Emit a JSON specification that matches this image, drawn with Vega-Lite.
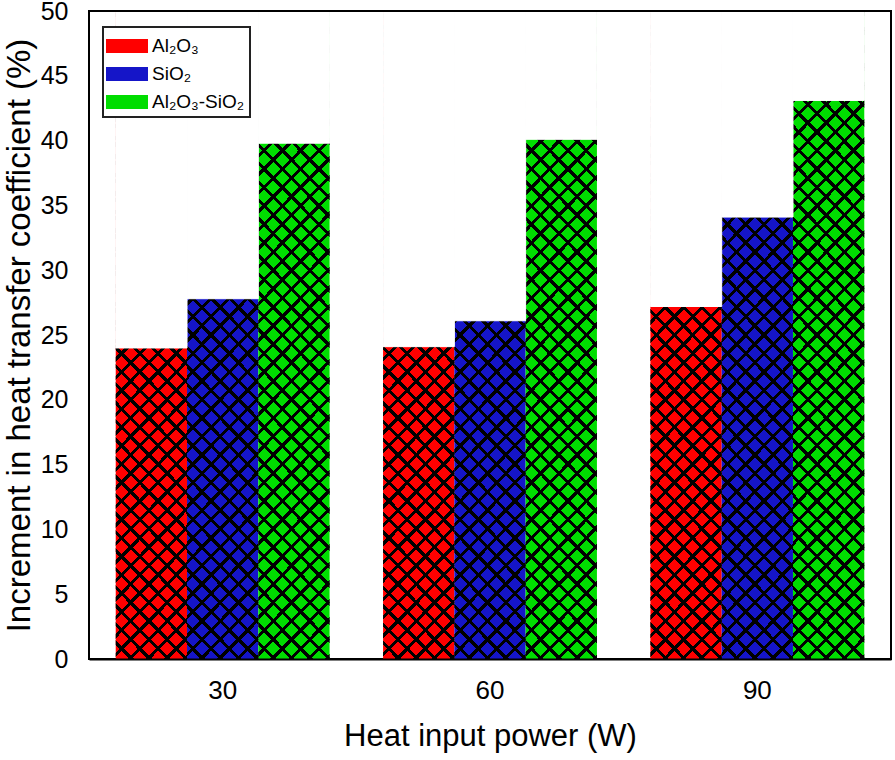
{
  "$schema": "https://vega.github.io/schema/vega-lite/v6.json",
  "width": 802,
  "height": 648,
  "autosize": "none",
  "padding": {"left": 89, "top": 11, "right": 4, "bottom": 101},
  "background": "white",
  "config": {
    "font": "Liberation Sans",
    "view": {"stroke": "black", "strokeWidth": 2},
    "axis": {"labelColor": "black", "titleColor": "black", "labelFont": "Liberation Sans", "titleFont": "Liberation Sans", "titleFontWeight": "normal"}
  },
  "data": {"values": [
    {"power": "30", "series": "Al₂O₃", "value": 24.0},
    {"power": "30", "series": "SiO₂", "value": 27.8},
    {"power": "30", "series": "Al₂O₃-SiO₂", "value": 39.8},
    {"power": "60", "series": "Al₂O₃", "value": 24.1},
    {"power": "60", "series": "SiO₂", "value": 26.1},
    {"power": "60", "series": "Al₂O₃-SiO₂", "value": 40.1},
    {"power": "90", "series": "Al₂O₃", "value": 27.2},
    {"power": "90", "series": "SiO₂", "value": 34.1},
    {"power": "90", "series": "Al₂O₃-SiO₂", "value": 43.1}
  ]},
  "layer": [
    {
      "mark": {"type": "bar"},
      "encoding": {
        "x": {"field": "power", "type": "nominal", "title": "Heat input power (W)",
          "scale": {"paddingInner": 0.2, "paddingOuter": 0.1},
          "axis": {"labelAngle": 0, "labelFontSize": 26, "titleFontSize": 31, "ticks": false, "labelPadding": 18, "titlePadding": 18, "domain": true, "domainColor": "black", "domainWidth": 2, "zindex": 1}},
        "xOffset": {"field": "series", "type": "nominal", "sort": ["Al₂O₃", "SiO₂", "Al₂O₃-SiO₂"], "scale": {"paddingInner": 0, "paddingOuter": 0}},
        "y": {"datum": 50, "type": "quantitative", "title": "Increment in heat transfer coefficient (%)",
          "scale": {"domain": [0, 50], "nice": false},
          "axis": {"values": [0,5,10,15,20,25,30,35,40,45,50], "labelFontSize": 25, "titleFontSize": 33, "ticks": false, "domain": false, "grid": false, "labelPadding": 21, "titlePadding": 4}},
        "y2": {"datum": 0},
        "color": {"field": "series", "type": "nominal", "sort": ["Al₂O₃", "SiO₂", "Al₂O₃-SiO₂"],
          "scale": {"range": ["#ff0000", "#1515c8", "#00dd00"]},
          "legend": {"title": null, "orient": "none", "legendX": 14, "legendY": 16, "strokeColor": "#222", "fillColor": "white", "padding": 5,
            "symbolType": "M-1.5,-0.5H1.5V0.5H-1.5Z", "symbolSize": 784, "symbolStrokeWidth": 0, "symbolOpacity": 1, "symbolOffset": 5,
            "labelFontSize": 19, "labelFont": "Liberation Sans", "labelColor": "black", "labelOffset": 11, "rowPadding": 4,
            "encode": {"legend": {"update": {"strokeWidth": {"value": 2}}}}}}
      }
    },
    {
      "mark": {"type": "bar", "fill": {"gradient": "linear", "x1": 0, "y1": 1, "x2": 0.125, "y2": -0.125, "stops": [
{"offset":0,"color":"rgba(0,0,0,0)"},{"offset":0.019,"color":"rgba(0,0,0,0)"},{"offset":0.019,"color":"#000"},{"offset":0.025,"color":"#000"},
{"offset":0.025,"color":"rgba(0,0,0,0)"},{"offset":0.044,"color":"rgba(0,0,0,0)"},{"offset":0.044,"color":"#000"},{"offset":0.05,"color":"#000"},
{"offset":0.05,"color":"rgba(0,0,0,0)"},{"offset":0.069,"color":"rgba(0,0,0,0)"},{"offset":0.069,"color":"#000"},{"offset":0.075,"color":"#000"},
{"offset":0.075,"color":"rgba(0,0,0,0)"},{"offset":0.094,"color":"rgba(0,0,0,0)"},{"offset":0.094,"color":"#000"},{"offset":0.1,"color":"#000"},
{"offset":0.1,"color":"rgba(0,0,0,0)"},{"offset":0.119,"color":"rgba(0,0,0,0)"},{"offset":0.119,"color":"#000"},{"offset":0.125,"color":"#000"},
{"offset":0.125,"color":"rgba(0,0,0,0)"},{"offset":0.144,"color":"rgba(0,0,0,0)"},{"offset":0.144,"color":"#000"},{"offset":0.15,"color":"#000"},
{"offset":0.15,"color":"rgba(0,0,0,0)"},{"offset":0.169,"color":"rgba(0,0,0,0)"},{"offset":0.169,"color":"#000"},{"offset":0.175,"color":"#000"},
{"offset":0.175,"color":"rgba(0,0,0,0)"},{"offset":0.194,"color":"rgba(0,0,0,0)"},{"offset":0.194,"color":"#000"},{"offset":0.2,"color":"#000"},
{"offset":0.2,"color":"rgba(0,0,0,0)"},{"offset":0.219,"color":"rgba(0,0,0,0)"},{"offset":0.219,"color":"#000"},{"offset":0.225,"color":"#000"},
{"offset":0.225,"color":"rgba(0,0,0,0)"},{"offset":0.244,"color":"rgba(0,0,0,0)"},{"offset":0.244,"color":"#000"},{"offset":0.25,"color":"#000"},
{"offset":0.25,"color":"rgba(0,0,0,0)"},{"offset":0.269,"color":"rgba(0,0,0,0)"},{"offset":0.269,"color":"#000"},{"offset":0.275,"color":"#000"},
{"offset":0.275,"color":"rgba(0,0,0,0)"},{"offset":0.294,"color":"rgba(0,0,0,0)"},{"offset":0.294,"color":"#000"},{"offset":0.3,"color":"#000"},
{"offset":0.3,"color":"rgba(0,0,0,0)"},{"offset":0.319,"color":"rgba(0,0,0,0)"},{"offset":0.319,"color":"#000"},{"offset":0.325,"color":"#000"},
{"offset":0.325,"color":"rgba(0,0,0,0)"},{"offset":0.344,"color":"rgba(0,0,0,0)"},{"offset":0.344,"color":"#000"},{"offset":0.35,"color":"#000"},
{"offset":0.35,"color":"rgba(0,0,0,0)"},{"offset":0.369,"color":"rgba(0,0,0,0)"},{"offset":0.369,"color":"#000"},{"offset":0.375,"color":"#000"},
{"offset":0.375,"color":"rgba(0,0,0,0)"},{"offset":0.394,"color":"rgba(0,0,0,0)"},{"offset":0.394,"color":"#000"},{"offset":0.4,"color":"#000"},
{"offset":0.4,"color":"rgba(0,0,0,0)"},{"offset":0.419,"color":"rgba(0,0,0,0)"},{"offset":0.419,"color":"#000"},{"offset":0.425,"color":"#000"},
{"offset":0.425,"color":"rgba(0,0,0,0)"},{"offset":0.444,"color":"rgba(0,0,0,0)"},{"offset":0.444,"color":"#000"},{"offset":0.45,"color":"#000"},
{"offset":0.45,"color":"rgba(0,0,0,0)"},{"offset":0.469,"color":"rgba(0,0,0,0)"},{"offset":0.469,"color":"#000"},{"offset":0.475,"color":"#000"},
{"offset":0.475,"color":"rgba(0,0,0,0)"},{"offset":0.494,"color":"rgba(0,0,0,0)"},{"offset":0.494,"color":"#000"},{"offset":0.5,"color":"#000"},
{"offset":0.5,"color":"rgba(0,0,0,0)"},{"offset":0.519,"color":"rgba(0,0,0,0)"},{"offset":0.519,"color":"#000"},{"offset":0.525,"color":"#000"},
{"offset":0.525,"color":"rgba(0,0,0,0)"},{"offset":0.544,"color":"rgba(0,0,0,0)"},{"offset":0.544,"color":"#000"},{"offset":0.55,"color":"#000"},
{"offset":0.55,"color":"rgba(0,0,0,0)"},{"offset":0.569,"color":"rgba(0,0,0,0)"},{"offset":0.569,"color":"#000"},{"offset":0.575,"color":"#000"},
{"offset":0.575,"color":"rgba(0,0,0,0)"},{"offset":0.594,"color":"rgba(0,0,0,0)"},{"offset":0.594,"color":"#000"},{"offset":0.6,"color":"#000"},
{"offset":0.6,"color":"rgba(0,0,0,0)"},{"offset":0.619,"color":"rgba(0,0,0,0)"},{"offset":0.619,"color":"#000"},{"offset":0.625,"color":"#000"},
{"offset":0.625,"color":"rgba(0,0,0,0)"},{"offset":0.644,"color":"rgba(0,0,0,0)"},{"offset":0.644,"color":"#000"},{"offset":0.65,"color":"#000"},
{"offset":0.65,"color":"rgba(0,0,0,0)"},{"offset":0.669,"color":"rgba(0,0,0,0)"},{"offset":0.669,"color":"#000"},{"offset":0.675,"color":"#000"},
{"offset":0.675,"color":"rgba(0,0,0,0)"},{"offset":0.694,"color":"rgba(0,0,0,0)"},{"offset":0.694,"color":"#000"},{"offset":0.7,"color":"#000"},
{"offset":0.7,"color":"rgba(0,0,0,0)"},{"offset":0.719,"color":"rgba(0,0,0,0)"},{"offset":0.719,"color":"#000"},{"offset":0.725,"color":"#000"},
{"offset":0.725,"color":"rgba(0,0,0,0)"},{"offset":0.744,"color":"rgba(0,0,0,0)"},{"offset":0.744,"color":"#000"},{"offset":0.75,"color":"#000"},
{"offset":0.75,"color":"rgba(0,0,0,0)"},{"offset":0.769,"color":"rgba(0,0,0,0)"},{"offset":0.769,"color":"#000"},{"offset":0.775,"color":"#000"},
{"offset":0.775,"color":"rgba(0,0,0,0)"},{"offset":0.794,"color":"rgba(0,0,0,0)"},{"offset":0.794,"color":"#000"},{"offset":0.8,"color":"#000"},
{"offset":0.8,"color":"rgba(0,0,0,0)"},{"offset":0.819,"color":"rgba(0,0,0,0)"},{"offset":0.819,"color":"#000"},{"offset":0.825,"color":"#000"},
{"offset":0.825,"color":"rgba(0,0,0,0)"},{"offset":0.844,"color":"rgba(0,0,0,0)"},{"offset":0.844,"color":"#000"},{"offset":0.85,"color":"#000"},
{"offset":0.85,"color":"rgba(0,0,0,0)"},{"offset":0.869,"color":"rgba(0,0,0,0)"},{"offset":0.869,"color":"#000"},{"offset":0.875,"color":"#000"},
{"offset":0.875,"color":"rgba(0,0,0,0)"},{"offset":0.894,"color":"rgba(0,0,0,0)"},{"offset":0.894,"color":"#000"},{"offset":0.9,"color":"#000"},
{"offset":0.9,"color":"rgba(0,0,0,0)"},{"offset":0.919,"color":"rgba(0,0,0,0)"},{"offset":0.919,"color":"#000"},{"offset":0.925,"color":"#000"},
{"offset":0.925,"color":"rgba(0,0,0,0)"},{"offset":0.944,"color":"rgba(0,0,0,0)"},{"offset":0.944,"color":"#000"},{"offset":0.95,"color":"#000"},
{"offset":0.95,"color":"rgba(0,0,0,0)"},{"offset":0.969,"color":"rgba(0,0,0,0)"},{"offset":0.969,"color":"#000"},{"offset":0.975,"color":"#000"},
{"offset":0.975,"color":"rgba(0,0,0,0)"},{"offset":0.994,"color":"rgba(0,0,0,0)"},{"offset":0.994,"color":"#000"},{"offset":1,"color":"#000"}
      ]}},
      "encoding": {
        "x": {"field": "power", "type": "nominal", "title": "Heat input power (W)"},
        "xOffset": {"field": "series", "type": "nominal", "sort": ["Al₂O₃", "SiO₂", "Al₂O₃-SiO₂"]},
        "y": {"datum": 50, "type": "quantitative", "title": "Increment in heat transfer coefficient (%)"},
        "y2": {"datum": 0}
      }
    },
    {
      "mark": {"type": "bar", "fill": {"gradient": "linear", "x1": 0, "y1": 0, "x2": 0.125, "y2": 1.125, "stops": [
{"offset":0,"color":"rgba(0,0,0,0)"},{"offset":0.019,"color":"rgba(0,0,0,0)"},{"offset":0.019,"color":"#000"},{"offset":0.025,"color":"#000"},
{"offset":0.025,"color":"rgba(0,0,0,0)"},{"offset":0.044,"color":"rgba(0,0,0,0)"},{"offset":0.044,"color":"#000"},{"offset":0.05,"color":"#000"},
{"offset":0.05,"color":"rgba(0,0,0,0)"},{"offset":0.069,"color":"rgba(0,0,0,0)"},{"offset":0.069,"color":"#000"},{"offset":0.075,"color":"#000"},
{"offset":0.075,"color":"rgba(0,0,0,0)"},{"offset":0.094,"color":"rgba(0,0,0,0)"},{"offset":0.094,"color":"#000"},{"offset":0.1,"color":"#000"},
{"offset":0.1,"color":"rgba(0,0,0,0)"},{"offset":0.119,"color":"rgba(0,0,0,0)"},{"offset":0.119,"color":"#000"},{"offset":0.125,"color":"#000"},
{"offset":0.125,"color":"rgba(0,0,0,0)"},{"offset":0.144,"color":"rgba(0,0,0,0)"},{"offset":0.144,"color":"#000"},{"offset":0.15,"color":"#000"},
{"offset":0.15,"color":"rgba(0,0,0,0)"},{"offset":0.169,"color":"rgba(0,0,0,0)"},{"offset":0.169,"color":"#000"},{"offset":0.175,"color":"#000"},
{"offset":0.175,"color":"rgba(0,0,0,0)"},{"offset":0.194,"color":"rgba(0,0,0,0)"},{"offset":0.194,"color":"#000"},{"offset":0.2,"color":"#000"},
{"offset":0.2,"color":"rgba(0,0,0,0)"},{"offset":0.219,"color":"rgba(0,0,0,0)"},{"offset":0.219,"color":"#000"},{"offset":0.225,"color":"#000"},
{"offset":0.225,"color":"rgba(0,0,0,0)"},{"offset":0.244,"color":"rgba(0,0,0,0)"},{"offset":0.244,"color":"#000"},{"offset":0.25,"color":"#000"},
{"offset":0.25,"color":"rgba(0,0,0,0)"},{"offset":0.269,"color":"rgba(0,0,0,0)"},{"offset":0.269,"color":"#000"},{"offset":0.275,"color":"#000"},
{"offset":0.275,"color":"rgba(0,0,0,0)"},{"offset":0.294,"color":"rgba(0,0,0,0)"},{"offset":0.294,"color":"#000"},{"offset":0.3,"color":"#000"},
{"offset":0.3,"color":"rgba(0,0,0,0)"},{"offset":0.319,"color":"rgba(0,0,0,0)"},{"offset":0.319,"color":"#000"},{"offset":0.325,"color":"#000"},
{"offset":0.325,"color":"rgba(0,0,0,0)"},{"offset":0.344,"color":"rgba(0,0,0,0)"},{"offset":0.344,"color":"#000"},{"offset":0.35,"color":"#000"},
{"offset":0.35,"color":"rgba(0,0,0,0)"},{"offset":0.369,"color":"rgba(0,0,0,0)"},{"offset":0.369,"color":"#000"},{"offset":0.375,"color":"#000"},
{"offset":0.375,"color":"rgba(0,0,0,0)"},{"offset":0.394,"color":"rgba(0,0,0,0)"},{"offset":0.394,"color":"#000"},{"offset":0.4,"color":"#000"},
{"offset":0.4,"color":"rgba(0,0,0,0)"},{"offset":0.419,"color":"rgba(0,0,0,0)"},{"offset":0.419,"color":"#000"},{"offset":0.425,"color":"#000"},
{"offset":0.425,"color":"rgba(0,0,0,0)"},{"offset":0.444,"color":"rgba(0,0,0,0)"},{"offset":0.444,"color":"#000"},{"offset":0.45,"color":"#000"},
{"offset":0.45,"color":"rgba(0,0,0,0)"},{"offset":0.469,"color":"rgba(0,0,0,0)"},{"offset":0.469,"color":"#000"},{"offset":0.475,"color":"#000"},
{"offset":0.475,"color":"rgba(0,0,0,0)"},{"offset":0.494,"color":"rgba(0,0,0,0)"},{"offset":0.494,"color":"#000"},{"offset":0.5,"color":"#000"},
{"offset":0.5,"color":"rgba(0,0,0,0)"},{"offset":0.519,"color":"rgba(0,0,0,0)"},{"offset":0.519,"color":"#000"},{"offset":0.525,"color":"#000"},
{"offset":0.525,"color":"rgba(0,0,0,0)"},{"offset":0.544,"color":"rgba(0,0,0,0)"},{"offset":0.544,"color":"#000"},{"offset":0.55,"color":"#000"},
{"offset":0.55,"color":"rgba(0,0,0,0)"},{"offset":0.569,"color":"rgba(0,0,0,0)"},{"offset":0.569,"color":"#000"},{"offset":0.575,"color":"#000"},
{"offset":0.575,"color":"rgba(0,0,0,0)"},{"offset":0.594,"color":"rgba(0,0,0,0)"},{"offset":0.594,"color":"#000"},{"offset":0.6,"color":"#000"},
{"offset":0.6,"color":"rgba(0,0,0,0)"},{"offset":0.619,"color":"rgba(0,0,0,0)"},{"offset":0.619,"color":"#000"},{"offset":0.625,"color":"#000"},
{"offset":0.625,"color":"rgba(0,0,0,0)"},{"offset":0.644,"color":"rgba(0,0,0,0)"},{"offset":0.644,"color":"#000"},{"offset":0.65,"color":"#000"},
{"offset":0.65,"color":"rgba(0,0,0,0)"},{"offset":0.669,"color":"rgba(0,0,0,0)"},{"offset":0.669,"color":"#000"},{"offset":0.675,"color":"#000"},
{"offset":0.675,"color":"rgba(0,0,0,0)"},{"offset":0.694,"color":"rgba(0,0,0,0)"},{"offset":0.694,"color":"#000"},{"offset":0.7,"color":"#000"},
{"offset":0.7,"color":"rgba(0,0,0,0)"},{"offset":0.719,"color":"rgba(0,0,0,0)"},{"offset":0.719,"color":"#000"},{"offset":0.725,"color":"#000"},
{"offset":0.725,"color":"rgba(0,0,0,0)"},{"offset":0.744,"color":"rgba(0,0,0,0)"},{"offset":0.744,"color":"#000"},{"offset":0.75,"color":"#000"},
{"offset":0.75,"color":"rgba(0,0,0,0)"},{"offset":0.769,"color":"rgba(0,0,0,0)"},{"offset":0.769,"color":"#000"},{"offset":0.775,"color":"#000"},
{"offset":0.775,"color":"rgba(0,0,0,0)"},{"offset":0.794,"color":"rgba(0,0,0,0)"},{"offset":0.794,"color":"#000"},{"offset":0.8,"color":"#000"},
{"offset":0.8,"color":"rgba(0,0,0,0)"},{"offset":0.819,"color":"rgba(0,0,0,0)"},{"offset":0.819,"color":"#000"},{"offset":0.825,"color":"#000"},
{"offset":0.825,"color":"rgba(0,0,0,0)"},{"offset":0.844,"color":"rgba(0,0,0,0)"},{"offset":0.844,"color":"#000"},{"offset":0.85,"color":"#000"},
{"offset":0.85,"color":"rgba(0,0,0,0)"},{"offset":0.869,"color":"rgba(0,0,0,0)"},{"offset":0.869,"color":"#000"},{"offset":0.875,"color":"#000"},
{"offset":0.875,"color":"rgba(0,0,0,0)"},{"offset":0.894,"color":"rgba(0,0,0,0)"},{"offset":0.894,"color":"#000"},{"offset":0.9,"color":"#000"},
{"offset":0.9,"color":"rgba(0,0,0,0)"},{"offset":0.919,"color":"rgba(0,0,0,0)"},{"offset":0.919,"color":"#000"},{"offset":0.925,"color":"#000"},
{"offset":0.925,"color":"rgba(0,0,0,0)"},{"offset":0.944,"color":"rgba(0,0,0,0)"},{"offset":0.944,"color":"#000"},{"offset":0.95,"color":"#000"},
{"offset":0.95,"color":"rgba(0,0,0,0)"},{"offset":0.969,"color":"rgba(0,0,0,0)"},{"offset":0.969,"color":"#000"},{"offset":0.975,"color":"#000"},
{"offset":0.975,"color":"rgba(0,0,0,0)"},{"offset":0.994,"color":"rgba(0,0,0,0)"},{"offset":0.994,"color":"#000"},{"offset":1,"color":"#000"}
      ]}},
      "encoding": {
        "x": {"field": "power", "type": "nominal", "title": "Heat input power (W)"},
        "xOffset": {"field": "series", "type": "nominal", "sort": ["Al₂O₃", "SiO₂", "Al₂O₃-SiO₂"]},
        "y": {"datum": 50, "type": "quantitative", "title": "Increment in heat transfer coefficient (%)"},
        "y2": {"datum": 0}
      }
    },
    {
      "mark": {"type": "bar", "fill": "white", "stroke": "white", "strokeWidth": 1},
      "encoding": {
        "x": {"field": "power", "type": "nominal", "title": "Heat input power (W)"},
        "xOffset": {"field": "series", "type": "nominal", "sort": ["Al₂O₃", "SiO₂", "Al₂O₃-SiO₂"]},
        "y": {"field": "value", "type": "quantitative", "title": "Increment in heat transfer coefficient (%)"},
        "y2": {"datum": 50}
      }
    },
    {
      "mark": {"type": "rule", "color": "black", "strokeWidth": 2},
      "encoding": {
        "y": {"datum": 50, "type": "quantitative", "title": "Increment in heat transfer coefficient (%)"}
      }
    }
  ]
}
